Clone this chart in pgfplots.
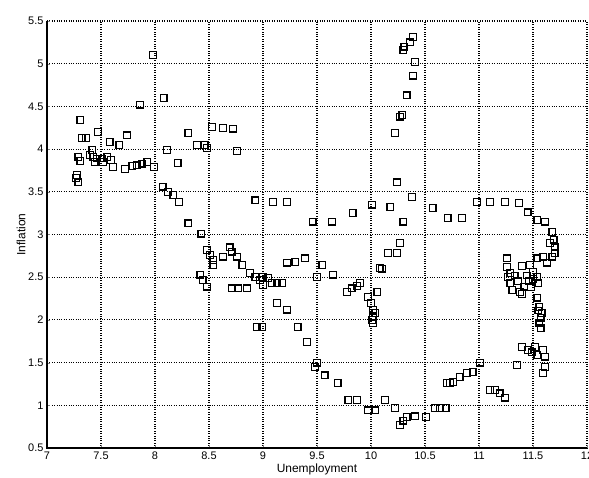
\documentclass[border=0pt]{standalone}
\usepackage{fontspec}
\setmainfont{Liberation Sans}
\usepackage{pgfplots}
\pgfplotsset{compat=1.18}

\pgfkeys{/pgf/number format/assume math mode=true}

\begin{document}
\begin{tikzpicture}
\begin{axis}[
  scale only axis,
  width=540bp, height=427bp,
  xmin=7, xmax=12, ymin=0.5, ymax=5.5,
  xtick distance=0.5, ytick distance=0.5,
  axis lines*=left,
  axis line style={line width=1.3pt},
  tick align=inside,
  major tick length=3pt,
  grid=major,
  major grid style={dotted, line width=1.2pt, black},
  tick label style={font=\fontsize{11}{12}\selectfont},
  label style={font=\fontsize{12}{13}\selectfont},
  xlabel={Unemployment},
  ylabel={Inflation},
  xlabel style={yshift=2pt},
  ylabel style={yshift=-4pt},
  /pgf/number format/fixed,
]
\addplot[only marks, mark=square, mark size=3.4pt, black, line width=1.2pt] coordinates {
(7.98,5.10) (7.86,4.52) (8.08,4.60) (7.31,4.34) (7.47,4.20) (7.32,4.13) (7.36,4.13)
(7.74,4.16) (7.58,4.08) (7.67,4.05) (7.42,3.99) (7.29,3.91) (7.31,3.86) (7.40,3.93)
(7.43,3.91) (7.46,3.89) (7.51,3.89) (7.56,3.91) (7.59,3.87) (7.44,3.85) (7.52,3.85)
(7.61,3.79) (7.72,3.77) (7.79,3.80) (7.83,3.81) (7.88,3.83) (7.93,3.85) (7.99,3.79)
(8.11,3.99) (8.31,4.19) (8.39,4.05) (8.46,4.05) (8.48,4.01) (8.53,4.26) (8.63,4.25)
(8.72,4.24) (8.76,3.98) (8.21,3.84) (7.28,3.70) (7.27,3.66) (7.29,3.61) (8.07,3.56)
(8.12,3.50) (8.17,3.46) (8.22,3.38) (8.93,3.40) (9.09,3.38) (9.22,3.38) (8.31,3.13)
(8.43,3.01)
(8.48,2.82) (8.51,2.76) (8.54,2.70) (8.54,2.64) (8.63,2.74) (8.69,2.85) (8.71,2.80)
(8.76,2.74) (8.81,2.64) (8.88,2.55) (8.93,2.50) (8.97,2.47) (8.42,2.53) (8.44,2.47)
(8.48,2.39) (8.71,2.37) (8.77,2.37) (8.85,2.37) (9.00,2.50) (9.05,2.49) (9.08,2.43)
(9.13,2.43) (9.18,2.43) (9.00,2.41) (9.22,2.67) (9.30,2.68) (9.39,2.72) (9.13,2.20)
(9.22,2.12) (8.94,1.92) (8.99,1.92) (9.32,1.92) (9.46,3.15) (9.64,3.15) (9.83,3.25)
(10.01,3.35) (9.55,2.64) (9.50,2.50) (9.65,2.53) (9.78,2.33) (9.82,2.37) (9.87,2.40)
(9.90,2.43) (9.97,2.27) (10.00,2.20) (10.02,2.12) (10.02,2.03) (10.02,1.96) (10.06,2.33)
(10.04,2.08) (10.01,2.00)
(10.39,5.31) (10.36,5.25) (10.31,5.20) (10.30,5.16) (10.41,5.02) (10.39,4.86) (10.33,4.63)
(10.29,4.40) (10.27,4.38) (10.22,4.19) (10.24,3.61) (10.38,3.44) (10.18,3.32) (10.30,3.15)
(10.27,2.90) (10.24,2.78) (10.16,2.78) (10.08,2.61) (10.10,2.60)
(9.41,1.74) (9.48,1.45) (9.50,1.50) (9.57,1.35) (9.69,1.26) (9.79,1.06) (9.87,1.06)
(9.97,0.94) (10.04,0.94) (10.13,1.06) (10.22,0.97) (10.27,0.77) (10.30,0.82) (10.33,0.86)
(10.41,0.87) (10.51,0.86) (10.59,0.97) (10.64,0.97) (10.69,0.97) (10.70,1.26) (10.73,1.26)
(10.76,1.27) (10.82,1.33) (10.89,1.38) (10.94,1.39) (11.01,1.50) (11.10,1.18) (11.15,1.18)
(11.19,1.14) (11.24,1.09)
(10.57,3.31) (10.71,3.19) (10.84,3.19) (10.98,3.38) (11.10,3.38) (11.24,3.38) (11.37,3.37)
(11.45,3.26) (11.54,3.17) (11.61,3.15) (11.68,3.03) (11.69,2.94) (11.70,2.85) (11.70,2.78)
(11.66,2.90) (11.63,2.67) (11.68,2.74) (11.59,2.74) (11.54,2.72) (11.47,2.64) (11.40,2.63)
(11.26,2.72) (11.26,2.62) (11.27,2.50) (11.29,2.43) (11.31,2.35) (11.29,2.55) (11.33,2.52)
(11.36,2.45) (11.38,2.33) (11.42,2.39) (11.46,2.45) (11.50,2.48) (11.54,2.50) (11.55,2.43)
(11.48,2.38) (11.40,2.30) (11.44,2.52) (11.50,2.56) (11.54,2.26) (11.56,2.15) (11.58,2.08)
(11.56,1.96) (11.57,1.90) (11.55,2.11) (11.57,2.02) (11.40,1.68) (11.45,1.65) (11.52,1.68)
(11.54,1.59) (11.59,1.65) (11.61,1.57) (11.61,1.45) (11.59,1.38) (11.49,1.62) (11.35,1.47)
};
\end{axis}
\pgfresetboundingbox
\path[use as bounding box] (-47bp,-30bp) rectangle (542bp,448bp);
\end{tikzpicture}
\end{document}
